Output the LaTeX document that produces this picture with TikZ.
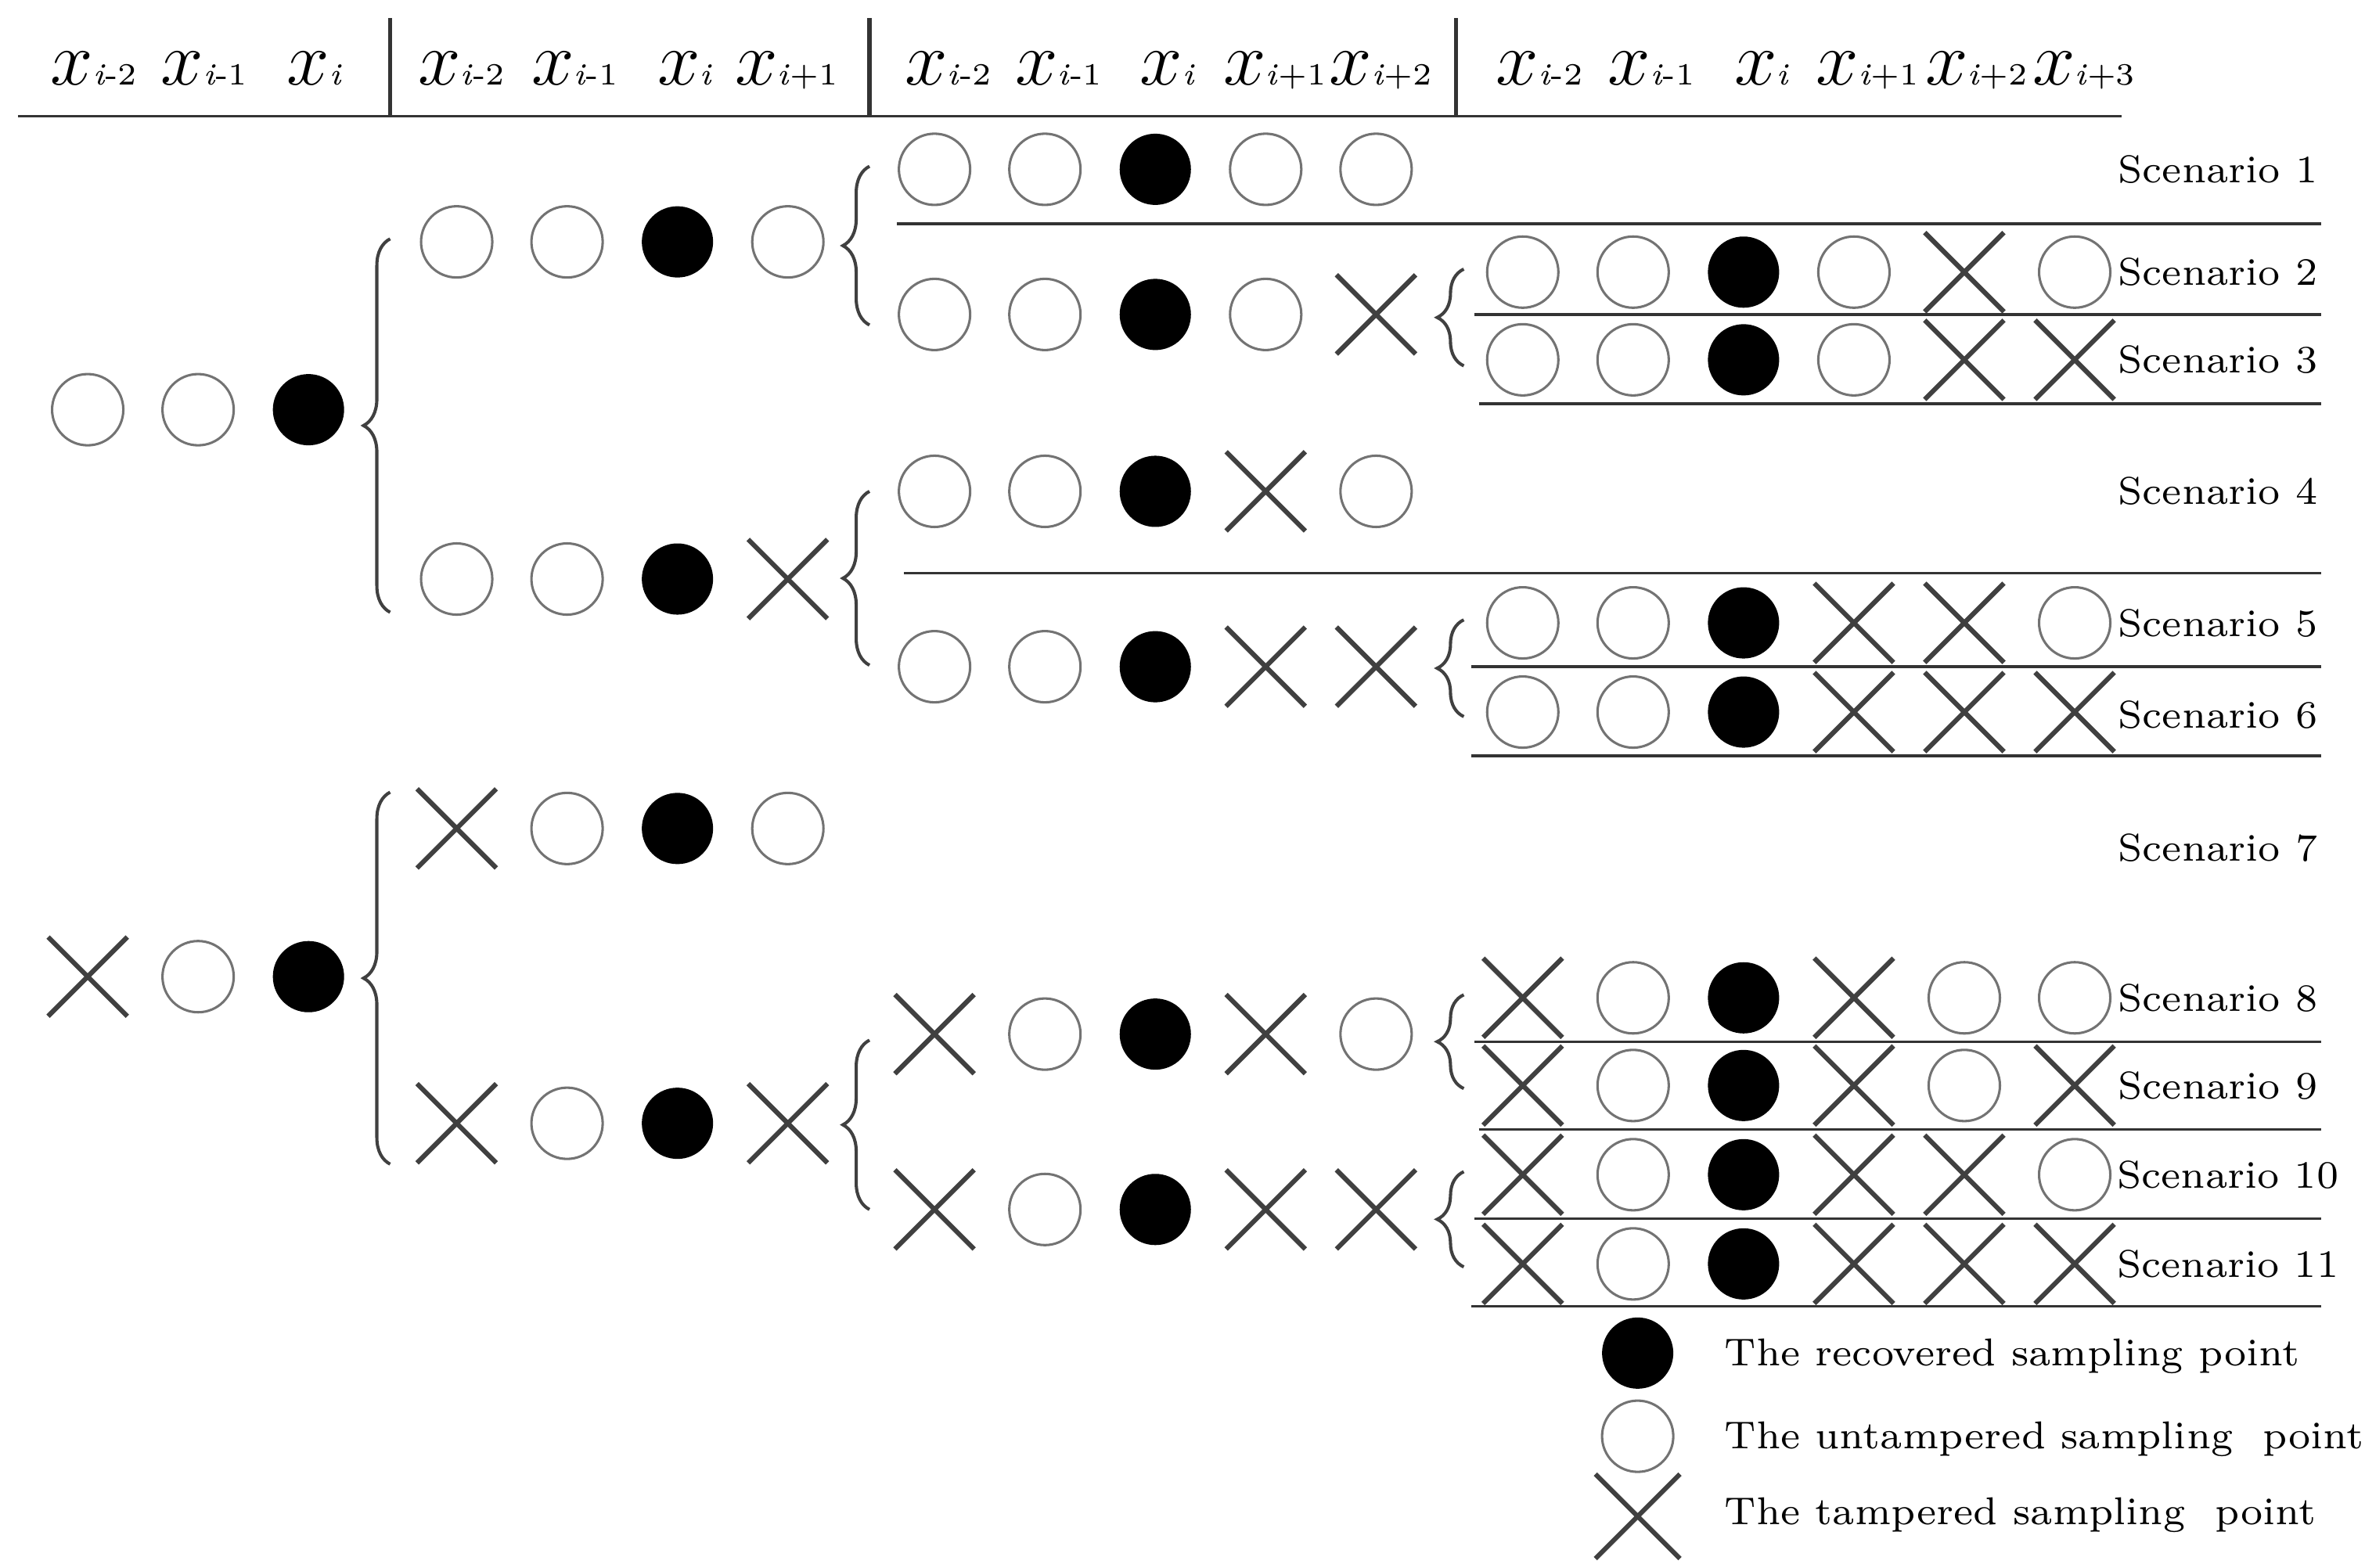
\documentclass[tikz,border=0pt]{standalone}
\usetikzlibrary{shapes.misc,decorations.pathreplacing}
\tikzset{
 ptO/.style={circle,draw=black!55,line width=0.45pt,minimum size=13.4pt,inner sep=0pt,fill=white},
 ptB/.style={circle,fill=black,minimum size=13.4pt,inner sep=0pt},
 ptX/.style={cross out,draw=black!75,line width=0.9pt,minimum size=14pt,inner sep=0pt},
 sep/.style={draw=black!80,line width=0.5pt},
 brc/.style={decorate,decoration={brace,amplitude=5pt},draw=black!75,line width=0.6pt},
 scen/.style={anchor=east,font=\fontsize{7.3}{9}\selectfont},
 leg/.style={anchor=west,font=\fontsize{7.3}{9}\selectfont},
 hdr/.style={anchor=base,inner sep=0pt}
}
\newcommand\myrow[3]{\foreach \t [count=\k from 0] in {#3} {\node[\t] (p-#2-\k) at ({#1+\k*73},#2) {};}}
\newcommand\hx[1]{{\fontsize{15.5}{16}\selectfont$x$}{\fontsize{5.8}{7}\selectfont #1}}
\begin{document}
\begin{tikzpicture}[x=0.01cm,y=-0.01cm]
\useasboundingbox (0,0) rectangle (1564,1037);
% header
\draw[sep] (12,77) -- (1403,77);
\foreach \xx in {258,575,963} \draw[sep,line width=0.8pt] (\xx,12) -- (\xx,77);
\foreach \xx/\s in {62/{\textit{i}-2},135/{\textit{i}-1},208/{\textit{i}},
 305/{\textit{i}-2},380/{\textit{i}-1},453/{\textit{i}},520/{\textit{i}+1},
 627/{\textit{i}-2},700/{\textit{i}-1},772/{\textit{i}},843/{\textit{i}+1},913/{\textit{i}+2},
 1018/{\textit{i}-2},1092/{\textit{i}-1},1165/{\textit{i}},1235/{\textit{i}+1},1307/{\textit{i}+2},1378/{\textit{i}+3}}
 \node[hdr] at (\xx,56) {\hx{\s}};
% tree 1
\myrow{58}{271}{ptO,ptO,ptB}
\draw[brc] (258,405) -- (258,158);
\myrow{302}{160}{ptO,ptO,ptB,ptO}
\myrow{302}{383}{ptO,ptO,ptB,ptX}
\draw[brc] (575,215) -- (575,110);
\draw[brc] (575,440) -- (575,325);
\myrow{618}{112}{ptO,ptO,ptB,ptO,ptO}
\draw[sep] (593,148) -- (1535,148);
\myrow{618}{208}{ptO,ptO,ptB,ptO,ptX}
\draw[brc] (968,242) -- (968,178);
\myrow{1007}{180}{ptO,ptO,ptB,ptO,ptX,ptO}
\draw[sep] (975,208) -- (1535,208);
\myrow{1007}{238}{ptO,ptO,ptB,ptO,ptX,ptX}
\draw[sep] (978,267) -- (1535,267);
\myrow{618}{325}{ptO,ptO,ptB,ptX,ptO}
\draw[sep] (598,379) -- (1535,379);
\myrow{618}{441}{ptO,ptO,ptB,ptX,ptX}
\draw[brc] (968,474) -- (968,410);
\myrow{1007}{412}{ptO,ptO,ptB,ptX,ptX,ptO}
\draw[sep] (973,441) -- (1535,441);
\myrow{1007}{471}{ptO,ptO,ptB,ptX,ptX,ptX}
\draw[sep] (973,500) -- (1535,500);
% tree 2
\myrow{58}{646}{ptX,ptO,ptB}
\draw[brc] (258,770) -- (258,524);
\myrow{302}{548}{ptX,ptO,ptB,ptO}
\myrow{302}{743}{ptX,ptO,ptB,ptX}
\draw[brc] (575,800) -- (575,688);
\myrow{618}{684}{ptX,ptO,ptB,ptX,ptO}
\draw[brc] (968,720) -- (968,658);
\myrow{1007}{660}{ptX,ptO,ptB,ptX,ptO,ptO}
\draw[sep] (975,689) -- (1535,689);
\myrow{1007}{718}{ptX,ptO,ptB,ptX,ptO,ptX}
\draw[sep] (978,747) -- (1535,747);
\myrow{618}{800}{ptX,ptO,ptB,ptX,ptX}
\draw[brc] (968,838) -- (968,775);
\myrow{1007}{777}{ptX,ptO,ptB,ptX,ptX,ptO}
\draw[sep] (975,806) -- (1535,806);
\myrow{1007}{836}{ptX,ptO,ptB,ptX,ptX,ptX}
\draw[sep] (973,864) -- (1535,864);
% scenario labels
\foreach \yy/\n in {112/1,180/2,238/3,325/4,412/5,473/6,561/7,660/8,718/9}
 \node[scen] at (1545,\yy) {Scenario \n};
\node[scen] at (1559,777) {Scenario 10};
\node[scen] at (1559,836) {Scenario 11};
% legend
\node[ptB] (lb) at (1083,895) {};
\node[ptO] (lo) at (1083,950) {};
\node[ptX,minimum size=15pt] (lx) at (1083,1003) {};
\node[leg] at (1128,897) {The recovered sampling point};
\node[leg] at (1128,952) {The untampered sampling\ \ point};
\node[leg] at (1128,1002) {The tampered sampling\ \ point};
\end{tikzpicture}
\end{document}
